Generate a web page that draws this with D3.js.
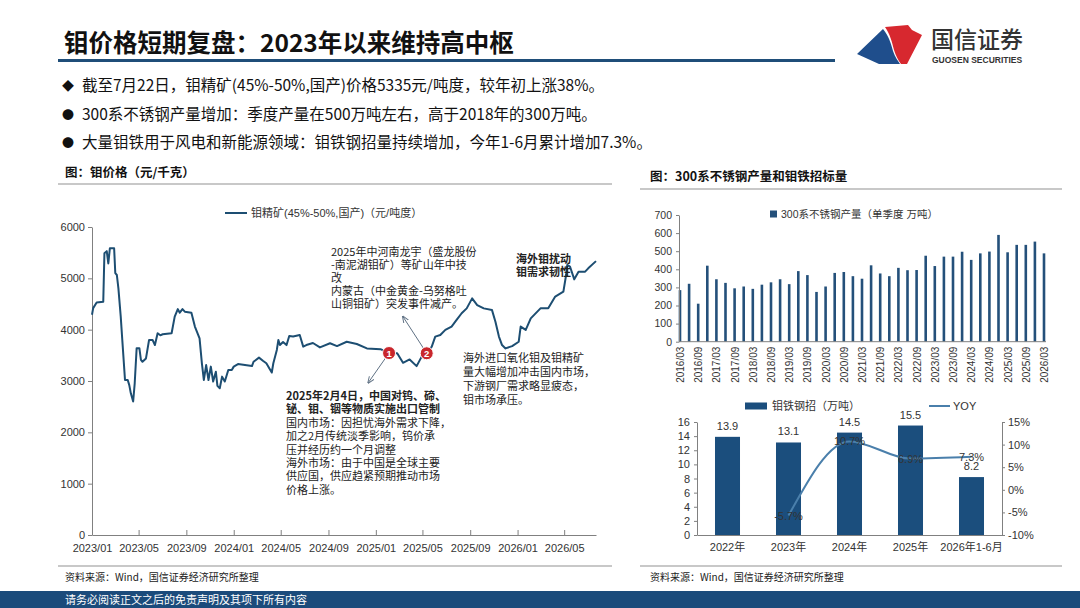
<!DOCTYPE html>
<html>
<head>
<meta charset="utf-8">
<script src="https://cdn.jsdelivr.net/npm/d3@7"></script>
<style>
  body { margin: 0; background: #fff; }
  svg { display: block; }
</style>
</head>
<body>
<svg id="slide" width="1080" height="608"></svg>
<script>
/* global d3 */

const CJK = '"Noto Sans CJK SC", sans-serif'
const LAT = '"Liberation Sans", "Noto Sans CJK SC", sans-serif'

// ---- data ----
const priceDates = [
  '2023-01-01', '2023-01-04', '2023-01-13', '2023-01-30', '2023-02-02', '2023-02-08', '2023-02-12', '2023-02-16',
  '2023-02-27', '2023-03-02', '2023-03-06', '2023-03-10', '2023-03-16', '2023-03-20', '2023-03-27', '2023-04-03',
  '2023-04-07', '2023-04-11', '2023-04-17', '2023-04-21', '2023-04-26', '2023-05-03', '2023-05-07', '2023-05-11',
  '2023-05-20', '2023-05-28', '2023-06-06', '2023-06-12', '2023-06-19', '2023-06-26', '2023-07-02', '2023-07-25',
  '2023-08-02', '2023-08-10', '2023-08-15', '2023-08-22', '2023-08-28', '2023-09-14', '2023-09-23', '2023-10-05',
  '2023-10-11', '2023-10-16', '2023-10-22', '2023-10-28', '2023-11-03', '2023-11-09', '2023-11-16', '2023-11-20',
  '2023-11-26', '2023-12-02', '2023-12-09', '2023-12-18', '2023-12-27', '2024-01-01', '2024-01-12', '2024-02-17',
  '2024-02-21', '2024-03-06', '2024-03-17', '2024-03-25', '2024-04-08', '2024-04-12', '2024-04-21', '2024-04-25',
  '2024-04-29', '2024-05-07', '2024-05-16', '2024-05-23', '2024-06-02', '2024-06-19', '2024-06-28', '2024-07-06',
  '2024-07-23', '2024-08-10', '2024-09-05', '2024-09-23', '2024-10-18', '2024-11-13', '2024-12-09', '2025-01-13',
  '2025-02-03', '2025-02-25', '2025-03-12', '2025-03-29', '2025-04-16', '2025-04-29', '2025-05-12', '2025-05-25',
  '2025-06-03', '2025-06-16', '2025-06-29', '2025-07-15', '2025-07-28', '2025-08-10', '2025-08-23', '2025-09-06',
  '2025-09-19', '2025-10-06', '2025-10-27', '2025-11-05', '2025-11-14', '2025-11-22', '2025-12-01', '2025-12-18',
  '2026-01-04', '2026-01-09', '2026-01-22', '2026-02-04', '2026-03-01', '2026-03-21', '2026-04-08', '2026-04-29',
  '2026-05-06', '2026-05-09', '2026-05-16', '2026-05-27', '2026-06-07', '2026-06-24', '2026-07-02', '2026-07-22'
]
const priceValues = [
  4290, 4420, 4530, 4545, 5490, 5530, 5290, 5585,
  5585, 5100, 5065, 4805, 4255, 3800, 3020, 3020,
  2920, 2760, 2600, 2955, 3640, 3640, 3410, 3375,
  3440, 3800, 3800, 3700, 3930, 3890, 3910, 3930,
  4255, 4400, 4330, 4400, 4350, 4330, 4060, 3830,
  3345, 3020, 3310, 3020, 3280, 2990, 3180, 2905,
  2860, 3085, 2990, 3215, 3215, 3280, 3330, 3290,
  3375, 3455, 3390, 3345, 3165, 3345, 3605, 3800,
  3700, 3760, 3700, 3875, 3865, 3895, 3670, 3700,
  3740, 3655, 3735, 3680, 3765, 3720, 3635, 3620,
  3545, 3540, 3355, 3420, 3290, 3475, 3540, 3670,
  3865, 3895, 3995, 4060, 4190, 4320, 4415, 4610,
  4480, 4415, 4385, 4155, 3865, 3700, 3635, 3680,
  3765, 4060, 3995, 4220, 4415, 4415, 4645, 4740,
  5065, 5260, 5230, 4980, 5130, 5130, 5195, 5335
]
const priceTicks = [0, 1000, 2000, 3000, 4000, 5000, 6000]
const dateTicks = ['2023-01-01', '2023-05-01', '2023-09-01', '2024-01-01', '2024-05-01', '2024-09-01',
  '2025-01-01', '2025-05-01', '2025-09-01', '2026-01-01', '2026-05-01']
const eventDates = ['2025-02-04', '2025-05-12']
const eventValues = [3545, 3540]

const quarters = [
  '2016/03', '2016/06', '2016/09', '2016/12', '2017/03', '2017/06', '2017/09', '2017/12',
  '2018/03', '2018/06', '2018/09', '2018/12', '2019/03', '2019/06', '2019/09', '2019/12',
  '2020/03', '2020/06', '2020/09', '2020/12', '2021/03', '2021/06', '2021/09', '2021/12',
  '2022/03', '2022/06', '2022/09', '2022/12', '2023/03', '2023/06', '2023/09', '2023/12',
  '2024/03', '2024/06', '2024/09', '2024/12', '2025/03', '2025/06', '2025/09', '2025/12', '2026/03'
]
const steelOutput = [
  285, 320, 210, 420, 345, 325, 295, 305, 292, 315, 328, 345, 318, 390, 368, 275,
  305, 380, 385, 362, 348, 422, 377, 362, 408, 395, 396, 475, 418, 470, 470, 497,
  452, 488, 498, 590, 494, 535, 535, 553, 488
]

const tenderYears = ['2022年', '2023年', '2024年', '2025年', '2026年1-6月']
const tenderVolume = [13.9, 13.1, 14.5, 15.5, 8.2]
const tenderYoy = [null, -5.7, 10.7, 6.9, 7.3]

const svg = d3.select('#slide')
const parse = d3.timeParse('%Y-%m-%d')

function styleAxis(g, size) {
  g.select('.domain').attr('stroke', '#808080')
  g.selectAll('.tick line').attr('stroke', '#808080')
  g.selectAll('.tick text')
    .attr('fill', '#333')
    .style('font-family', LAT)
    .style('font-size', size + 'px')
}

// ---- header ----
svg.append('text')
  .attr('x', 64).attr('y', 52)
  .text('钼价格短期复盘：2023年以来维持高中枢')
  .style('font-family', CJK).style('font-size', '24.5px').style('font-weight', 700)
  .attr('fill', '#111')
svg.append('rect').attr('x', 58).attr('y', 59).attr('width', 777).attr('height', 3).attr('fill', '#1f4e79')

// logo
svg.append('path')
  .attr('d', 'M857,54 L883,29 C889,36 891,44 893,51 C895,57 898,61 900,64 L879,64 Z')
  .attr('fill', '#1f4e8c')
svg.append('path')
  .attr('d', 'M885,27 L908,25 L912,30 L922,35 L907,64 L901,64 C898,60 896,56 894,50 C892,42 890,34 885,27 Z')
  .attr('fill', '#d7282f')
svg.append('text').attr('x', 931).attr('y', 48).text('国信证券')
  .style('font-family', CJK).style('font-size', '23px').style('font-weight', 500).attr('fill', '#333')
svg.append('text').attr('x', 932).attr('y', 63).text('GUOSEN SECURITIES')
  .style('font-family', LAT).style('font-size', '8.5px').style('font-weight', 700).attr('fill', '#333')

// ---- bullets ----
const bullets = [
  ['◆', '截至7月22日，钼精矿(45%-50%,国产)价格5335元/吨度，较年初上涨38%。'],
  ['●', '300系不锈钢产量增加：季度产量在500万吨左右，高于2018年的300万吨。'],
  ['●', '大量钼铁用于风电和新能源领域：钼铁钢招量持续增加，今年1-6月累计增加7.3%。']
]
const bulletY = [91, 120, 148]
bullets.forEach(([sym, txt], i) => {
  svg.append('text').attr('x', 62).attr('y', bulletY[i]).text(sym)
    .style('font-family', CJK).style('font-size', '12px').attr('fill', '#111')
  svg.append('text').attr('x', 82).attr('y', bulletY[i]).text(txt)
    .style('font-family', CJK).style('font-size', '15.5px').attr('fill', '#111')
})

// section headings
svg.append('text').attr('x', 65).attr('y', 177).text('图：钼价格（元/千克）')
  .style('font-family', CJK).style('font-size', '12.5px').style('font-weight', 700).attr('fill', '#111')
svg.append('line').attr('x1', 58).attr('x2', 612).attr('y1', 184).attr('y2', 184)
  .attr('stroke', '#c8c8c8').attr('stroke-width', 2)
svg.append('text').attr('x', 650).attr('y', 181).text('图：300系不锈钢产量和钼铁招标量')
  .style('font-family', CJK).style('font-size', '12.5px').style('font-weight', 700).attr('fill', '#111')
svg.append('line').attr('x1', 640).attr('x2', 1062).attr('y1', 189).attr('y2', 189)
  .attr('stroke', '#c8c8c8').attr('stroke-width', 2)

// ---- left chart: price line ----
const xL = d3.scaleTime().domain([parse('2023-01-01'), parse('2026-07-22')]).range([92, 596])
const yL = d3.scaleLinear().domain([0, 6000]).range([535, 227])

svg.append('g')
  .attr('transform', 'translate(92,0)')
  .call(d3.axisLeft(yL).tickValues(priceTicks).tickFormat(d3.format('d'))
    .tickSize(4).tickSizeOuter(0).tickPadding(3))
  .call((g) => styleAxis(g, 11))
svg.append('g')
  .attr('transform', 'translate(0,535)')
  .call(d3.axisBottom(xL).tickValues(dateTicks.map(parse)).tickFormat(d3.timeFormat('%Y/%m'))
    .tickSize(-5).tickSizeOuter(0).tickPadding(9))
  .call((g) => styleAxis(g, 11))

const priceData = priceDates.map((d, i) => ({ date: parse(d), value: priceValues[i] }))
svg.append('path')
  .datum(priceData)
  .attr('d', d3.line().x((d) => xL(d.date)).y((d) => yL(d.value)))
  .attr('fill', 'none')
  .attr('stroke', '#1d4e72')
  .attr('stroke-width', 2)
  .attr('stroke-linejoin', 'round')

// legend
svg.append('line').attr('x1', 225).attr('x2', 247).attr('y1', 213).attr('y2', 213)
  .attr('stroke', '#1d4e72').attr('stroke-width', 2)
svg.append('text').attr('x', 251).attr('y', 217).text('钼精矿(45%-50%,国产)（元/吨度）')
  .style('font-family', LAT).style('font-size', '11px').attr('fill', '#333')

// arrows + event markers
const defs = svg.append('defs')
defs.append('marker').attr('id', 'arrowHead')
  .attr('viewBox', '0 0 10 10').attr('refX', 9).attr('refY', 5)
  .attr('markerWidth', 7).attr('markerHeight', 7).attr('orient', 'auto-start-reverse')
  .append('path').attr('d', 'M0,1 L10,5 L0,9').attr('fill', 'none').attr('stroke', '#5f7184').attr('stroke-width', 1.4)

const arrowOffsets = [[-21, 30], [-24, -37]]
eventDates.forEach((d, i) => {
  const cx = xL(parse(d))
  const cy = yL(eventValues[i])
  svg.append('line')
    .attr('x1', cx).attr('y1', cy)
    .attr('x2', cx + arrowOffsets[i][0]).attr('y2', cy + arrowOffsets[i][1])
    .attr('stroke', '#5f7184').attr('stroke-width', 1)
    .attr('marker-end', 'url(#arrowHead)')
  svg.append('circle').attr('cx', cx).attr('cy', cy).attr('r', 6.5)
    .attr('fill', '#c9262c').attr('stroke', '#fff').attr('stroke-width', 1)
  svg.append('text').attr('x', cx).attr('y', cy + 3.5).text(i + 1)
    .attr('text-anchor', 'middle').style('font-family', LAT).style('font-size', '9.5px')
    .style('font-weight', 700).attr('fill', '#fff')
})

function textBlock(lines, x, y0, step) {
  lines.forEach(([txt, bold], i) => {
    svg.append('text').attr('x', x).attr('y', y0 + i * step).text(txt)
      .style('font-family', CJK).style('font-size', '11px')
      .style('font-weight', bold ? 700 : 400).attr('fill', '#222')
  })
}
textBlock([
  ['2025年中河南龙宇（盛龙股份'], ['-南泥湖钼矿）等矿山年中技'], ['改'],
  ['内蒙古（中金黄金-乌努格吐'], ['山铜钼矿）突发事件减产。']
], 331, 256, 13.1)
textBlock([['海外钼扰动', true], ['钼需求韧性', true]], 516, 263, 12.7)
textBlock([
  ['海外进口氧化钼及钼精矿'], ['量大幅增加冲击国内市场，'], ['下游钢厂需求略显疲态，'], ['钼市场承压。']
], 463, 362, 14)
textBlock([
  ['2025年2月4日，中国对钨、碲、', true], ['铋、钼、铟等物质实施出口管制', true],
  ['国内市场：因担忧海外需求下降，'], ['加之2月传统淡季影响，钨价承'], ['压并经历约一个月调整'],
  ['海外市场：由于中国是全球主要'], ['供应国，供应趋紧预期推动市场'], ['价格上涨。']
], 286, 400, 13.4)

// ---- right top: 300-series stainless output ----
const xQ = d3.scalePoint().domain(quarters).range([680, 1044])
const yQ = d3.scaleLinear().domain([0, 700]).range([341.7, 215])

svg.append('g').selectAll('rect')
  .data(quarters)
  .join('rect')
  .attr('x', (d) => xQ(d) - 1.3)
  .attr('width', 2.6)
  .attr('y', (d, i) => yQ(steelOutput[i]))
  .attr('height', (d, i) => yQ(0) - yQ(steelOutput[i]))
  .attr('fill', '#24507a')

svg.append('g')
  .attr('transform', 'translate(679,0)')
  .call(d3.axisLeft(yQ).tickValues(d3.range(0, 701, 100)).tickSize(3).tickSizeOuter(0).tickPadding(4))
  .call((g) => styleAxis(g, 10.5))
svg.append('g')
  .attr('transform', 'translate(0,341.7)')
  .call(d3.axisBottom(xQ).tickValues(quarters.filter((d, i) => i % 2 === 0)).tickSize(0).tickSizeOuter(0))
  .call((g) => styleAxis(g, 10))
  .call((g) => g.select('.domain').attr('d', 'M679,0H1046'))
  .call((g) => g.selectAll('.tick text')
    .attr('transform', 'rotate(-90)')
    .attr('x', -5).attr('y', 0).attr('dy', '0.35em')
    .style('text-anchor', 'end'))

svg.append('rect').attr('x', 770).attr('y', 210.5).attr('width', 7).attr('height', 7).attr('fill', '#24507a')
svg.append('text').attr('x', 781).attr('y', 218).text('300系不锈钢产量（单季度 万吨）')
  .style('font-family', LAT).style('font-size', '10.5px').attr('fill', '#333')

// ---- right bottom: ferromolybdenum tenders ----
const xB = d3.scaleBand().domain(tenderYears).range([697, 1002]).paddingInner(0.59).paddingOuter(0.295)
const yB = d3.scaleLinear().domain([0, 16]).range([535, 422])
const yR = d3.scaleLinear().domain([-10, 15]).range([535, 422])

svg.append('g').selectAll('rect')
  .data(tenderYears)
  .join('rect')
  .attr('x', (d) => xB(d))
  .attr('width', xB.bandwidth())
  .attr('y', (d, i) => yB(tenderVolume[i]))
  .attr('height', (d, i) => yB(0) - yB(tenderVolume[i]))
  .attr('fill', '#1b4e7d')

svg.append('g').selectAll('text')
  .data(tenderYears)
  .join('text')
  .attr('x', (d) => xB(d) + xB.bandwidth() / 2)
  .attr('y', (d, i) => yB(tenderVolume[i]) - 7)
  .attr('text-anchor', 'middle')
  .text((d, i) => tenderVolume[i].toFixed(1))
  .style('font-family', LAT).style('font-size', '11px').attr('fill', '#333')

const yoyPts = tenderYears
  .map((d, i) => ({ x: xB(d) + xB.bandwidth() / 2, v: tenderYoy[i] }))
  .filter((p) => p.v !== null)
svg.append('path')
  .datum(yoyPts)
  .attr('d', d3.line().x((p) => p.x).y((p) => yR(p.v)).curve(d3.curveMonotoneX))
  .attr('fill', 'none').attr('stroke', '#4a7fab').attr('stroke-width', 2)
svg.append('g').selectAll('text')
  .data(yoyPts)
  .join('text')
  .attr('x', (p) => p.x)
  .attr('y', (p) => yR(p.v) + 4)
  .attr('text-anchor', 'middle')
  .text((p) => p.v.toFixed(1) + '%')
  .style('font-family', LAT).style('font-size', '11px').attr('fill', '#333')

svg.append('g')
  .attr('transform', 'translate(697,0)')
  .call(d3.axisLeft(yB).tickValues(d3.range(0, 17, 2)).tickSize(3).tickSizeOuter(0).tickPadding(4))
  .call((g) => styleAxis(g, 11))
svg.append('g')
  .attr('transform', 'translate(1002,0)')
  .call(d3.axisRight(yR).tickValues([-10, -5, 0, 5, 10, 15]).tickFormat((d) => d + '%')
    .tickSize(3).tickSizeOuter(0).tickPadding(3))
  .call((g) => styleAxis(g, 11))
svg.append('g')
  .attr('transform', 'translate(0,535)')
  .call(d3.axisBottom(xB).tickSize(0).tickSizeOuter(0).tickPadding(8))
  .call((g) => styleAxis(g, 11))

svg.append('rect').attr('x', 745).attr('y', 402.5).attr('width', 22).attr('height', 7).attr('fill', '#1b4e7d')
svg.append('text').attr('x', 772).attr('y', 410).text('钼铁钢招（万吨）')
  .style('font-family', CJK).style('font-size', '11px').attr('fill', '#333')
svg.append('line').attr('x1', 929).attr('x2', 950).attr('y1', 406).attr('y2', 406)
  .attr('stroke', '#4a7fab').attr('stroke-width', 2)
svg.append('text').attr('x', 953).attr('y', 410).text('YOY')
  .style('font-family', LAT).style('font-size', '11px').attr('fill', '#333')

// ---- sources & footer ----
svg.append('line').attr('x1', 58).attr('x2', 612).attr('y1', 566).attr('y2', 566)
  .attr('stroke', '#c8c8c8').attr('stroke-width', 2)
svg.append('line').attr('x1', 640).attr('x2', 1062).attr('y1', 566).attr('y2', 566)
  .attr('stroke', '#c8c8c8').attr('stroke-width', 2)
svg.append('text').attr('x', 65).attr('y', 581).text('资料来源：Wind，国信证券经济研究所整理')
  .style('font-family', CJK).style('font-size', '10px').attr('fill', '#222')
svg.append('text').attr('x', 650).attr('y', 581).text('资料来源：Wind，国信证券经济研究所整理')
  .style('font-family', CJK).style('font-size', '10px').attr('fill', '#222')

svg.append('rect').attr('x', 0).attr('y', 591).attr('width', 1080).attr('height', 17).attr('fill', '#1b4b7b')
svg.append('text').attr('x', 65).attr('y', 604).text('请务必阅读正文之后的免责声明及其项下所有内容')
  .style('font-family', CJK).style('font-size', '11px').attr('fill', '#fff')
</script>
</body>
</html>
